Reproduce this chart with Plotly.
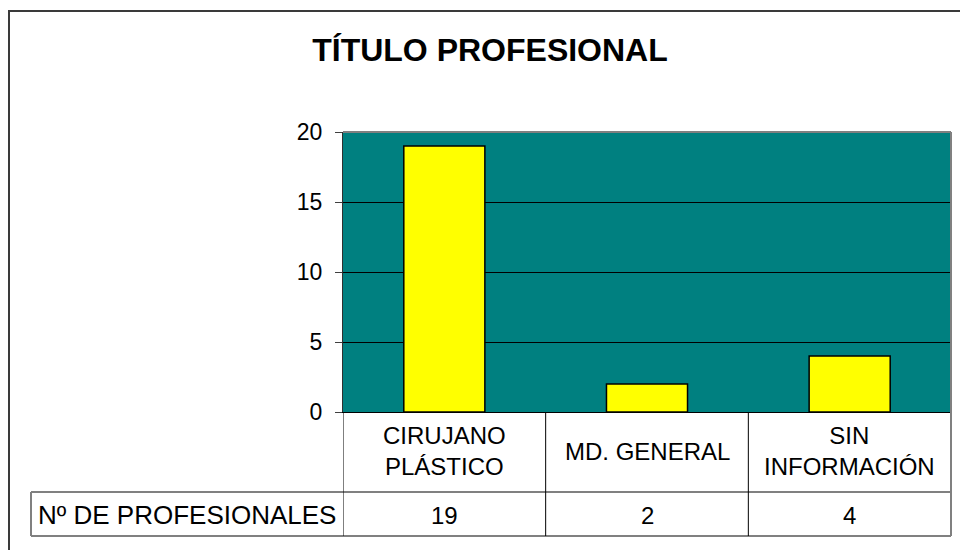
import plotly.graph_objects as go

# ---- data ----
categories = ["CIRUJANO<br>PLÁSTICO", "MD. GENERAL", "SIN<br>INFORMACIÓN"]
values = [19, 2, 4]
row_label = "Nº DE PROFESIONALES"
title_text = "TÍTULO PROFESIONAL"
y_ticks = [0, 5, 10, 15, 20]

W, H = 960, 550
L, R, T, B = 343, 9, 132, 138
PW, PH = W - L - R, H - T - B


def px(x):
    return (x - L) / PW


def py(y):
    return (H - B - y) / PH


FONT = "Liberation Sans, Arial, sans-serif"
xs = list(range(len(categories)))

fig = go.Figure()
fig.add_trace(go.Bar(
    x=xs, y=values, width=0.4,
    marker=dict(color="#FFFF00", line=dict(color="#000000", width=1.5)),
    hoverinfo="skip",
))

shapes = []
# outer chart border
shapes.append(dict(type="rect", xref="paper", yref="paper",
                   x0=px(9), x1=px(970), y0=py(560), y1=py(11),
                   line=dict(color="#3a3a3a", width=2), layer="below"))
# plot area border (gray top/right)
shapes.append(dict(type="line", xref="paper", yref="paper",
                   x0=0, x1=1, y0=1, y1=1, line=dict(color="#808080", width=2)))
shapes.append(dict(type="line", xref="paper", yref="paper",
                   x0=1, x1=1, y0=0, y1=1, line=dict(color="#808080", width=2)))

# data table lines
y_row1_bot = py(492)
y_row2_bot = py(536)
gray = dict(color="#808080", width=2)
black = dict(color="#000000", width=1)
shapes.append(dict(type="line", xref="paper", yref="paper",
                   x0=px(31), x1=1, y0=y_row1_bot, y1=y_row1_bot, line=gray))
shapes.append(dict(type="line", xref="paper", yref="paper",
                   x0=px(31), x1=1, y0=y_row2_bot, y1=y_row2_bot, line=gray))
shapes.append(dict(type="line", xref="paper", yref="paper",
                   x0=px(31), x1=px(31), y0=y_row2_bot, y1=y_row1_bot, line=gray))
for i in range(len(categories)):
    shapes.append(dict(type="line", xref="x", yref="paper",
                       x0=i - 0.5, x1=i - 0.5, y0=y_row2_bot, y1=0, line=black))
shapes.append(dict(type="line", xref="paper", yref="paper",
                   x0=1, x1=1, y0=y_row2_bot, y1=0, line=gray))

annotations = []
for i, c in enumerate(categories):
    annotations.append(dict(x=i, xref="x", y=py(451), yref="paper", text=c,
                            showarrow=False, xanchor="center", yanchor="middle",
                            font=dict(family=FONT, size=24, color="#000")))
for i, v in enumerate(values):
    annotations.append(dict(x=i, xref="x", y=py(515), yref="paper", text=str(v),
                            showarrow=False, xanchor="center", yanchor="middle",
                            font=dict(family=FONT, size=24, color="#000")))
annotations.append(dict(x=px(187), xref="paper", y=py(515), yref="paper",
                        text=row_label, showarrow=False, xanchor="center",
                        yanchor="middle",
                        font=dict(family=FONT, size=26, color="#000")))

fig.update_layout(
    width=W, height=H,
    margin=dict(l=L, r=R, t=T, b=B, pad=0),
    paper_bgcolor="#FFFFFF",
    plot_bgcolor="#008080",
    showlegend=False,
    title=dict(text="<b>" + title_text + "</b>", x=490 / W, xanchor="center",
               y=1 - 50 / H, yanchor="middle", yref="container",
               font=dict(family=FONT, size=32, color="#000")),
    xaxis=dict(range=[-0.5, len(categories) - 0.5], showticklabels=False,
               showgrid=False, zeroline=False, ticks="", fixedrange=True,
               showline=True, linecolor="#000000", linewidth=1),
    yaxis=dict(range=[0, 20], tickvals=y_ticks, ticks="outside", ticklen=7,
               tickcolor="#404040", tickwidth=1,
               showgrid=True, gridcolor="#000000", gridwidth=1,
               zeroline=False, showline=True, linecolor="#303030", linewidth=1,
               tickfont=dict(family=FONT, size=23, color="#000"),
               ticklabelstandoff=8, fixedrange=True),
    shapes=shapes,
    annotations=annotations,
    bargap=0.6,
)

fig.write_html("out.html", config={"displayModeBar": False},
               post_script="document.body.style.margin='0';document.body.style.overflow='hidden';")
